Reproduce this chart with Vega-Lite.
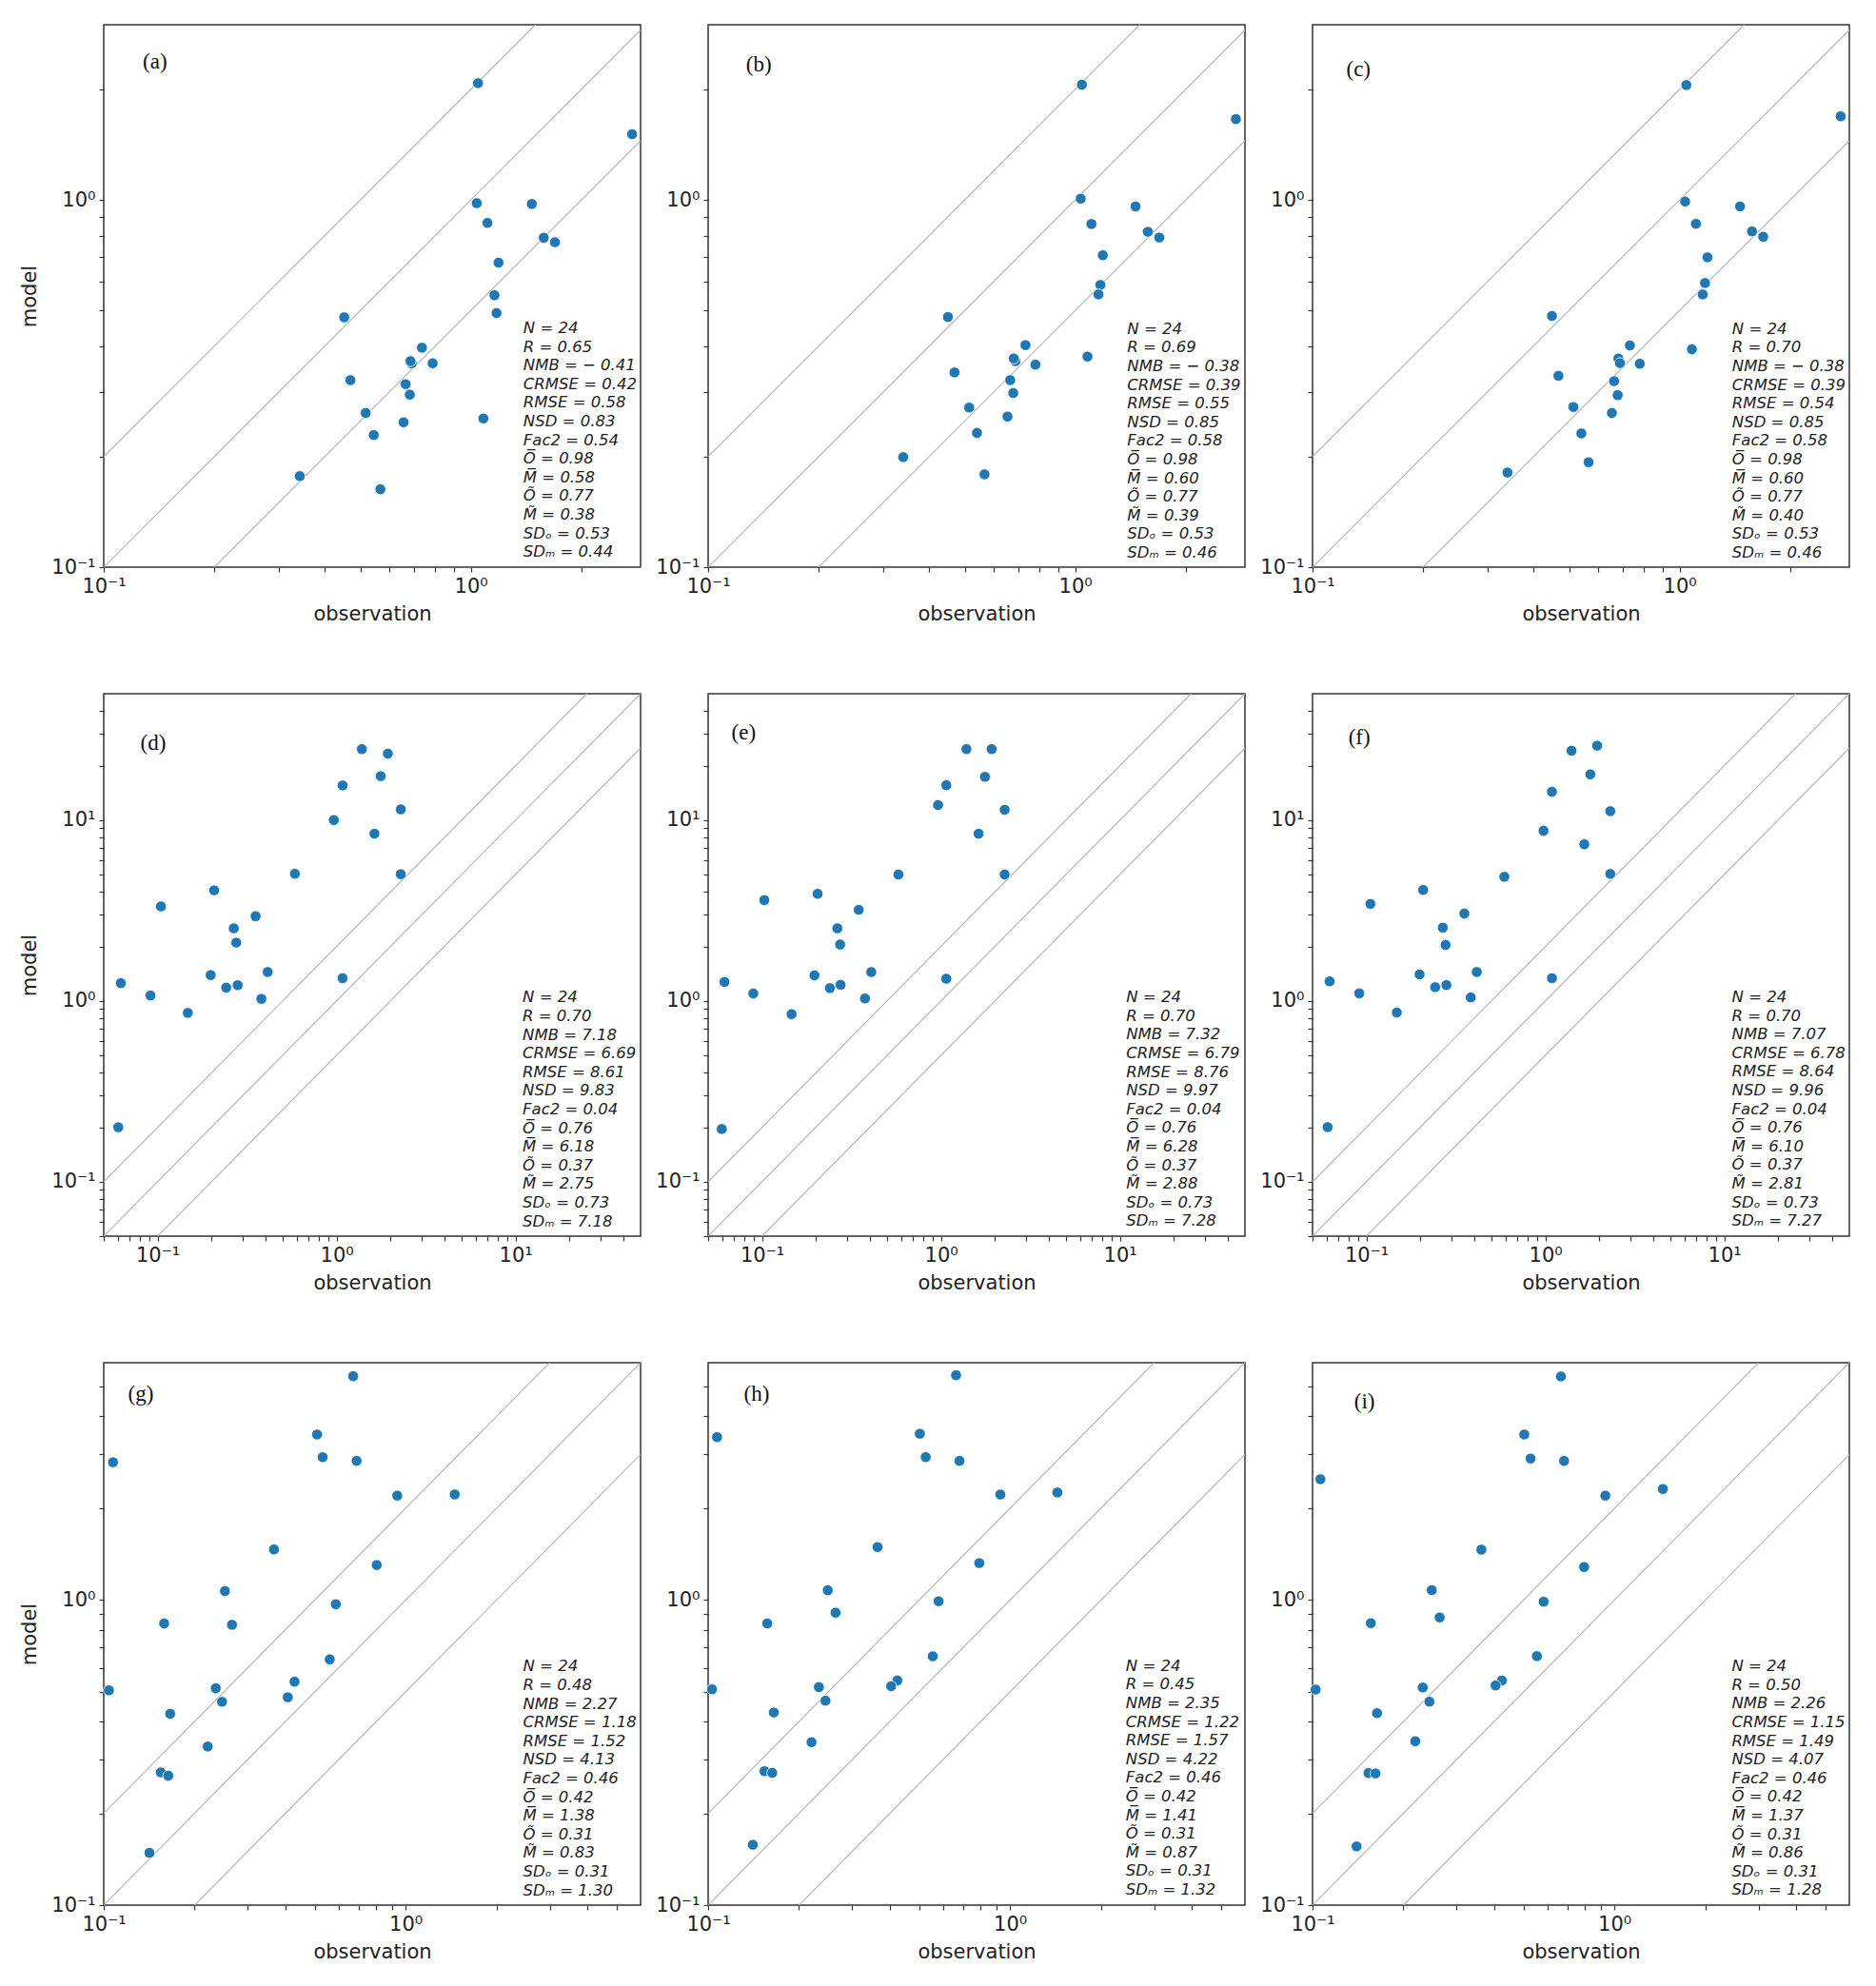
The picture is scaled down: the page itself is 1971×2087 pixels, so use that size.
{
  "$schema": "https://vega.github.io/schema/vega-lite/v6.json",
  "padding": {"left": 20, "top": 25, "right": 5, "bottom": 5},
  "background": "white",
  "datasets": {
    "diag": [
      {"k": "0.5", "x": 0.01, "y": 0.005}, {"k": "0.5", "x": 100, "y": 50},
      {"k": "1", "x": 0.01, "y": 0.01}, {"k": "1", "x": 100, "y": 100},
      {"k": "2", "x": 0.01, "y": 0.02}, {"k": "2", "x": 100, "y": 200}
    ],
    "pts": [
      {"p":"a","x":1.046,"y":2.08},{"p":"a","x":2.75,"y":1.51},{"p":"a","x":1.038,"y":0.98},{"p":"a","x":1.466,"y":0.975},{"p":"a","x":1.11,"y":0.866},{"p":"a","x":1.58,"y":0.789},{"p":"a","x":1.695,"y":0.767},{"p":"a","x":1.19,"y":0.675},{"p":"a","x":1.16,"y":0.55},{"p":"a","x":1.175,"y":0.492},{"p":"a","x":0.452,"y":0.479},{"p":"a","x":0.736,"y":0.396},{"p":"a","x":0.69,"y":0.359},{"p":"a","x":0.685,"y":0.364},{"p":"a","x":0.787,"y":0.359},{"p":"a","x":0.47,"y":0.323},{"p":"a","x":0.664,"y":0.315},{"p":"a","x":0.682,"y":0.295},{"p":"a","x":0.517,"y":0.263},{"p":"a","x":1.082,"y":0.254},{"p":"a","x":0.656,"y":0.248},{"p":"a","x":0.544,"y":0.229},{"p":"a","x":0.342,"y":0.177},{"p":"a","x":0.567,"y":0.163},
      {"p":"b","x":1.043,"y":2.06},{"p":"b","x":2.74,"y":1.66},{"p":"b","x":1.035,"y":1.008},{"p":"b","x":1.46,"y":0.96},{"p":"b","x":1.107,"y":0.86},{"p":"b","x":1.577,"y":0.819},{"p":"b","x":1.694,"y":0.79},{"p":"b","x":1.189,"y":0.707},{"p":"b","x":1.171,"y":0.587},{"p":"b","x":1.157,"y":0.553},{"p":"b","x":0.45,"y":0.48},{"p":"b","x":0.732,"y":0.4025},{"p":"b","x":1.08,"y":0.3745},{"p":"b","x":0.687,"y":0.364},{"p":"b","x":0.68,"y":0.37},{"p":"b","x":0.779,"y":0.356},{"p":"b","x":0.469,"y":0.339},{"p":"b","x":0.665,"y":0.323},{"p":"b","x":0.678,"y":0.298},{"p":"b","x":0.514,"y":0.272},{"p":"b","x":0.654,"y":0.257},{"p":"b","x":0.54,"y":0.232},{"p":"b","x":0.34,"y":0.1994},{"p":"b","x":0.566,"y":0.179},
      {"p":"c","x":1.043,"y":2.055},{"p":"c","x":2.747,"y":1.69},{"p":"c","x":1.035,"y":0.99},{"p":"c","x":1.461,"y":0.96},{"p":"c","x":1.108,"y":0.861},{"p":"c","x":1.575,"y":0.821},{"p":"c","x":1.689,"y":0.794},{"p":"c","x":1.191,"y":0.698},{"p":"c","x":1.173,"y":0.594},{"p":"c","x":1.156,"y":0.553},{"p":"c","x":0.449,"y":0.483},{"p":"c","x":0.732,"y":0.4015},{"p":"c","x":1.08,"y":0.392},{"p":"c","x":0.681,"y":0.37},{"p":"c","x":0.688,"y":0.3595},{"p":"c","x":0.779,"y":0.358},{"p":"c","x":0.4676,"y":0.332},{"p":"c","x":0.663,"y":0.321},{"p":"c","x":0.678,"y":0.294},{"p":"c","x":0.5136,"y":0.273},{"p":"c","x":0.654,"y":0.263},{"p":"c","x":0.54,"y":0.2313},{"p":"c","x":0.565,"y":0.193},{"p":"c","x":0.3396,"y":0.181},
      {"p":"d","x":1.385,"y":24.7},{"p":"d","x":1.935,"y":23.3},{"p":"d","x":1.765,"y":17.5},{"p":"d","x":1.081,"y":15.55},{"p":"d","x":2.286,"y":11.46},{"p":"d","x":0.966,"y":10.0},{"p":"d","x":1.628,"y":8.41},{"p":"d","x":0.585,"y":5.05},{"p":"d","x":2.286,"y":5.02},{"p":"d","x":0.207,"y":4.09},{"p":"d","x":0.1044,"y":3.33},{"p":"d","x":0.353,"y":2.94},{"p":"d","x":0.2665,"y":2.52},{"p":"d","x":0.275,"y":2.1},{"p":"d","x":0.198,"y":1.39},{"p":"d","x":0.4124,"y":1.445},{"p":"d","x":1.081,"y":1.335},{"p":"d","x":0.0623,"y":1.254},{"p":"d","x":0.2418,"y":1.184},{"p":"d","x":0.28,"y":1.221},{"p":"d","x":0.0912,"y":1.071},{"p":"d","x":0.38,"y":1.027},{"p":"d","x":0.1474,"y":0.859},{"p":"d","x":0.0603,"y":0.2},
      {"p":"e","x":1.388,"y":24.7},{"p":"e","x":1.92,"y":24.7},{"p":"e","x":1.762,"y":17.35},{"p":"e","x":1.071,"y":15.6},{"p":"e","x":0.963,"y":12.1},{"p":"e","x":2.27,"y":11.4},{"p":"e","x":1.624,"y":8.41},{"p":"e","x":0.579,"y":5.0},{"p":"e","x":2.27,"y":5.0},{"p":"e","x":0.2046,"y":3.91},{"p":"e","x":0.103,"y":3.61},{"p":"e","x":0.347,"y":3.19},{"p":"e","x":0.2637,"y":2.52},{"p":"e","x":0.2733,"y":2.05},{"p":"e","x":0.1965,"y":1.385},{"p":"e","x":0.408,"y":1.443},{"p":"e","x":1.071,"y":1.327},{"p":"e","x":0.0617,"y":1.273},{"p":"e","x":0.2395,"y":1.177},{"p":"e","x":0.2747,"y":1.227},{"p":"e","x":0.0894,"y":1.099},{"p":"e","x":0.3763,"y":1.032},{"p":"e","x":0.1463,"y":0.845},{"p":"e","x":0.0596,"y":0.1957},
      {"p":"f","x":1.401,"y":24.2},{"p":"f","x":1.948,"y":25.8},{"p":"f","x":1.784,"y":17.9},{"p":"f","x":1.089,"y":14.34},{"p":"f","x":2.307,"y":11.2},{"p":"f","x":0.977,"y":8.73},{"p":"f","x":1.651,"y":7.35},{"p":"f","x":0.59,"y":4.86},{"p":"f","x":2.307,"y":5.04},{"p":"f","x":0.2077,"y":4.11},{"p":"f","x":0.1053,"y":3.44},{"p":"f","x":0.3527,"y":3.04},{"p":"f","x":0.2672,"y":2.54},{"p":"f","x":0.277,"y":2.04},{"p":"f","x":0.1983,"y":1.401},{"p":"f","x":0.4139,"y":1.445},{"p":"f","x":1.089,"y":1.336},{"p":"f","x":0.0623,"y":1.282},{"p":"f","x":0.2423,"y":1.191},{"p":"f","x":0.28,"y":1.223},{"p":"f","x":0.0912,"y":1.101},{"p":"f","x":0.383,"y":1.045},{"p":"f","x":0.1479,"y":0.862},{"p":"f","x":0.0607,"y":0.2004},
      {"p":"g","x":0.67,"y":5.42},{"p":"g","x":0.509,"y":3.49},{"p":"g","x":0.1073,"y":2.83},{"p":"g","x":0.531,"y":2.94},{"p":"g","x":0.688,"y":2.86},{"p":"g","x":0.938,"y":2.2},{"p":"g","x":1.454,"y":2.22},{"p":"g","x":0.3664,"y":1.466},{"p":"g","x":0.802,"y":1.303},{"p":"g","x":0.252,"y":1.07},{"p":"g","x":0.587,"y":0.969},{"p":"g","x":0.1585,"y":0.838},{"p":"g","x":0.266,"y":0.83},{"p":"g","x":0.5606,"y":0.639},{"p":"g","x":0.4285,"y":0.54},{"p":"g","x":0.235,"y":0.514},{"p":"g","x":0.104,"y":0.506},{"p":"g","x":0.407,"y":0.48},{"p":"g","x":0.2465,"y":0.464},{"p":"g","x":0.166,"y":0.424},{"p":"g","x":0.221,"y":0.331},{"p":"g","x":0.1545,"y":0.2723},{"p":"g","x":0.1636,"y":0.2657},{"p":"g","x":0.1417,"y":0.1484},
      {"p":"h","x":0.6624,"y":5.46},{"p":"h","x":0.107,"y":3.42},{"p":"h","x":0.5027,"y":3.51},{"p":"h","x":0.5256,"y":2.94},{"p":"h","x":0.68,"y":2.86},{"p":"h","x":0.9286,"y":2.218},{"p":"h","x":1.435,"y":2.253},{"p":"h","x":0.364,"y":1.492},{"p":"h","x":0.791,"y":1.322},{"p":"h","x":0.249,"y":1.077},{"p":"h","x":0.58,"y":0.991},{"p":"h","x":0.2643,"y":0.909},{"p":"h","x":0.1569,"y":0.838},{"p":"h","x":0.5546,"y":0.654},{"p":"h","x":0.4235,"y":0.545},{"p":"h","x":0.4038,"y":0.522},{"p":"h","x":0.2327,"y":0.5185},{"p":"h","x":0.103,"y":0.51},{"p":"h","x":0.2447,"y":0.468},{"p":"h","x":0.165,"y":0.428},{"p":"h","x":0.22,"y":0.342},{"p":"h","x":0.1537,"y":0.2747},{"p":"h","x":0.163,"y":0.2713},{"p":"h","x":0.1406,"y":0.1577},
      {"p":"i","x":0.665,"y":5.41},{"p":"i","x":0.5028,"y":3.49},{"p":"i","x":0.5275,"y":2.91},{"p":"i","x":0.681,"y":2.858},{"p":"i","x":0.1062,"y":2.49},{"p":"i","x":0.933,"y":2.2},{"p":"i","x":1.447,"y":2.312},{"p":"i","x":0.3625,"y":1.463},{"p":"i","x":0.7935,"y":1.283},{"p":"i","x":0.2483,"y":1.078},{"p":"i","x":0.5829,"y":0.988},{"p":"i","x":0.2637,"y":0.877},{"p":"i","x":0.156,"y":0.84},{"p":"i","x":0.5537,"y":0.655},{"p":"i","x":0.4238,"y":0.545},{"p":"i","x":0.404,"y":0.525},{"p":"i","x":0.2318,"y":0.5168},{"p":"i","x":0.1024,"y":0.5087},{"p":"i","x":0.2439,"y":0.4646},{"p":"i","x":0.1636,"y":0.4258},{"p":"i","x":0.2189,"y":0.3445},{"p":"i","x":0.1532,"y":0.271},{"p":"i","x":0.1616,"y":0.2702},{"p":"i","x":0.1399,"y":0.1557}
    ],
    "labs": [
      {"p":"a","x":0.1278,"y":2.38,"t":"(a)"},{"p":"b","x":0.1268,"y":2.34,"t":"(b)"},{"p":"c","x":0.1236,"y":2.26,"t":"(c)"},
      {"p":"d","x":0.0802,"y":26.5,"t":"(d)"},{"p":"e","x":0.0676,"y":30.4,"t":"(e)"},{"p":"f","x":0.0793,"y":28.6,"t":"(f)"},
      {"p":"g","x":0.1204,"y":4.72,"t":"(g)"},{"p":"h","x":0.1313,"y":4.75,"t":"(h)"},{"p":"i","x":0.1374,"y":4.48,"t":"(i)"}
    ],
    "stats": [
      {"p":"a","x":1.39,"y":0.469,"t":"N = 24\nR = 0.65\nNMB = \u2212 0.41\nCRMSE = 0.42\nRMSE = 0.58\nNSD = 0.83\nFac2 = 0.54\nO\u0305 = 0.98\nM\u0305 = 0.58\n\u00d5 = 0.77\nM\u0303 = 0.38\nSD\u2092 = 0.53\nSD\u2098 = 0.44"},
      {"p":"b","x":1.386,"y":0.467,"t":"N = 24\nR = 0.69\nNMB = \u2212 0.38\nCRMSE = 0.39\nRMSE = 0.55\nNSD = 0.85\nFac2 = 0.58\nO\u0305 = 0.98\nM\u0305 = 0.60\n\u00d5 = 0.77\nM\u0303 = 0.39\nSD\u2092 = 0.53\nSD\u2098 = 0.46"},
      {"p":"c","x":1.39,"y":0.467,"t":"N = 24\nR = 0.70\nNMB = \u2212 0.38\nCRMSE = 0.39\nRMSE = 0.54\nNSD = 0.85\nFac2 = 0.58\nO\u0305 = 0.98\nM\u0305 = 0.60\n\u00d5 = 0.77\nM\u0303 = 0.40\nSD\u2092 = 0.53\nSD\u2098 = 0.46"},
      {"p":"d","x":10.96,"y":1.147,"t":"N = 24\nR = 0.70\nNMB = 7.18\nCRMSE = 6.69\nRMSE = 8.61\nNSD = 9.83\nFac2 = 0.04\nO\u0305 = 0.76\nM\u0305 = 6.18\n\u00d5 = 0.37\nM\u0303 = 2.75\nSD\u2092 = 0.73\nSD\u2098 = 7.18"},
      {"p":"e","x":10.85,"y":1.152,"t":"N = 24\nR = 0.70\nNMB = 7.32\nCRMSE = 6.79\nRMSE = 8.76\nNSD = 9.97\nFac2 = 0.04\nO\u0305 = 0.76\nM\u0305 = 6.28\n\u00d5 = 0.37\nM\u0303 = 2.88\nSD\u2092 = 0.73\nSD\u2098 = 7.28"},
      {"p":"f","x":11.03,"y":1.154,"t":"N = 24\nR = 0.70\nNMB = 7.07\nCRMSE = 6.78\nRMSE = 8.64\nNSD = 9.96\nFac2 = 0.04\nO\u0305 = 0.76\nM\u0305 = 6.10\n\u00d5 = 0.37\nM\u0303 = 2.81\nSD\u2092 = 0.73\nSD\u2098 = 7.27"},
      {"p":"g","x":2.448,"y":0.641,"t":"N = 24\nR = 0.48\nNMB = 2.27\nCRMSE = 1.18\nRMSE = 1.52\nNSD = 4.13\nFac2 = 0.46\nO\u0305 = 0.42\nM\u0305 = 1.38\n\u00d5 = 0.31\nM\u0303 = 0.83\nSD\u2092 = 0.31\nSD\u2098 = 1.30"},
      {"p":"h","x":2.418,"y":0.644,"t":"N = 24\nR = 0.45\nNMB = 2.35\nCRMSE = 1.22\nRMSE = 1.57\nNSD = 4.22\nFac2 = 0.46\nO\u0305 = 0.42\nM\u0305 = 1.41\n\u00d5 = 0.31\nM\u0303 = 0.87\nSD\u2092 = 0.31\nSD\u2098 = 1.32"},
      {"p":"i","x":2.446,"y":0.642,"t":"N = 24\nR = 0.50\nNMB = 2.26\nCRMSE = 1.15\nRMSE = 1.49\nNSD = 4.07\nFac2 = 0.46\nO\u0305 = 0.42\nM\u0305 = 1.37\n\u00d5 = 0.31\nM\u0303 = 0.86\nSD\u2092 = 0.31\nSD\u2098 = 1.28"}
    ]
  },
  "columns": 3,
  "bounds": "flush",
  "spacing": {"row": 133, "column": 71},
  "concat": [
    {"width": 564, "height": 570, "layer": [
      {"data": {"name": "diag"}, "mark": {"type": "line", "clip": true, "color": "#b5b5b5", "strokeWidth": 1.2},
       "encoding": {"x": {"field": "x", "type": "quantitative", "scale": {"type": "log", "domain": [0.1, 2.9], "nice": false}, "axis": {"title": "observation", "values": [0.1,0.2,0.3,0.4,0.5,0.6,0.7,0.8,0.9,1,2], "labelExpr": "datum.value == 0.1 ? '10\u207b\u00b9' : datum.value == 1 ? '10\u2070' : datum.value == 10 ? '10\u00b9' : ''"}},
                    "y": {"field": "y", "type": "quantitative", "scale": {"type": "log", "domain": [0.1, 3.0], "nice": false}, "axis": {"title": "model", "values": [0.1,0.2,0.3,0.4,0.5,0.6,0.7,0.8,0.9,1,2], "labelExpr": "datum.value == 0.1 ? '10\u207b\u00b9' : datum.value == 1 ? '10\u2070' : datum.value == 10 ? '10\u00b9' : ''"}},
                    "detail": {"field": "k"}}},
      {"data": {"name": "pts"}, "transform": [{"filter": "datum.p == 'a'"}], "mark": {"type": "circle", "size": 130, "color": "#1f77b4", "opacity": 1, "stroke": "white", "strokeWidth": 0.8}, "encoding": {"x": {"field": "x", "type": "quantitative"}, "y": {"field": "y", "type": "quantitative"}}},
      {"data": {"name": "labs"}, "transform": [{"filter": "datum.p == 'a'"}], "mark": {"type": "text", "font": "Liberation Serif", "fontSize": 23, "align": "left", "baseline": "middle", "color": "#111111"}, "encoding": {"x": {"field": "x", "type": "quantitative"}, "y": {"field": "y", "type": "quantitative"}, "text": {"field": "t"}}},
      {"data": {"name": "stats"}, "transform": [{"filter": "datum.p == 'a'"}], "mark": {"type": "text", "font": "DejaVu Sans", "fontStyle": "italic", "fontSize": 16.5, "lineHeight": 19.6, "lineBreak": "\n", "align": "left", "baseline": "top", "color": "#222222"}, "encoding": {"x": {"field": "x", "type": "quantitative"}, "y": {"field": "y", "type": "quantitative"}, "text": {"field": "t"}}}
    ]},
    {"width": 564, "height": 570, "layer": [
      {"data": {"name": "diag"}, "mark": {"type": "line", "clip": true, "color": "#b5b5b5", "strokeWidth": 1.2},
       "encoding": {"x": {"field": "x", "type": "quantitative", "scale": {"type": "log", "domain": [0.1, 2.9], "nice": false}, "axis": {"title": "observation", "values": [0.1,0.2,0.3,0.4,0.5,0.6,0.7,0.8,0.9,1,2], "labelExpr": "datum.value == 0.1 ? '10\u207b\u00b9' : datum.value == 1 ? '10\u2070' : datum.value == 10 ? '10\u00b9' : ''"}},
                    "y": {"field": "y", "type": "quantitative", "scale": {"type": "log", "domain": [0.1, 3.0], "nice": false}, "axis": {"title": null, "values": [0.1,0.2,0.3,0.4,0.5,0.6,0.7,0.8,0.9,1,2], "labelExpr": "datum.value == 0.1 ? '10\u207b\u00b9' : datum.value == 1 ? '10\u2070' : datum.value == 10 ? '10\u00b9' : ''"}},
                    "detail": {"field": "k"}}},
      {"data": {"name": "pts"}, "transform": [{"filter": "datum.p == 'b'"}], "mark": {"type": "circle", "size": 130, "color": "#1f77b4", "opacity": 1, "stroke": "white", "strokeWidth": 0.8}, "encoding": {"x": {"field": "x", "type": "quantitative"}, "y": {"field": "y", "type": "quantitative"}}},
      {"data": {"name": "labs"}, "transform": [{"filter": "datum.p == 'b'"}], "mark": {"type": "text", "font": "Liberation Serif", "fontSize": 23, "align": "left", "baseline": "middle", "color": "#111111"}, "encoding": {"x": {"field": "x", "type": "quantitative"}, "y": {"field": "y", "type": "quantitative"}, "text": {"field": "t"}}},
      {"data": {"name": "stats"}, "transform": [{"filter": "datum.p == 'b'"}], "mark": {"type": "text", "font": "DejaVu Sans", "fontStyle": "italic", "fontSize": 16.5, "lineHeight": 19.6, "lineBreak": "\n", "align": "left", "baseline": "top", "color": "#222222"}, "encoding": {"x": {"field": "x", "type": "quantitative"}, "y": {"field": "y", "type": "quantitative"}, "text": {"field": "t"}}}
    ]},
    {"width": 564, "height": 570, "layer": [
      {"data": {"name": "diag"}, "mark": {"type": "line", "clip": true, "color": "#b5b5b5", "strokeWidth": 1.2},
       "encoding": {"x": {"field": "x", "type": "quantitative", "scale": {"type": "log", "domain": [0.1, 2.9], "nice": false}, "axis": {"title": "observation", "values": [0.1,0.2,0.3,0.4,0.5,0.6,0.7,0.8,0.9,1,2], "labelExpr": "datum.value == 0.1 ? '10\u207b\u00b9' : datum.value == 1 ? '10\u2070' : datum.value == 10 ? '10\u00b9' : ''"}},
                    "y": {"field": "y", "type": "quantitative", "scale": {"type": "log", "domain": [0.1, 3.0], "nice": false}, "axis": {"title": null, "values": [0.1,0.2,0.3,0.4,0.5,0.6,0.7,0.8,0.9,1,2], "labelExpr": "datum.value == 0.1 ? '10\u207b\u00b9' : datum.value == 1 ? '10\u2070' : datum.value == 10 ? '10\u00b9' : ''"}},
                    "detail": {"field": "k"}}},
      {"data": {"name": "pts"}, "transform": [{"filter": "datum.p == 'c'"}], "mark": {"type": "circle", "size": 130, "color": "#1f77b4", "opacity": 1, "stroke": "white", "strokeWidth": 0.8}, "encoding": {"x": {"field": "x", "type": "quantitative"}, "y": {"field": "y", "type": "quantitative"}}},
      {"data": {"name": "labs"}, "transform": [{"filter": "datum.p == 'c'"}], "mark": {"type": "text", "font": "Liberation Serif", "fontSize": 23, "align": "left", "baseline": "middle", "color": "#111111"}, "encoding": {"x": {"field": "x", "type": "quantitative"}, "y": {"field": "y", "type": "quantitative"}, "text": {"field": "t"}}},
      {"data": {"name": "stats"}, "transform": [{"filter": "datum.p == 'c'"}], "mark": {"type": "text", "font": "DejaVu Sans", "fontStyle": "italic", "fontSize": 16.5, "lineHeight": 19.6, "lineBreak": "\n", "align": "left", "baseline": "top", "color": "#222222"}, "encoding": {"x": {"field": "x", "type": "quantitative"}, "y": {"field": "y", "type": "quantitative"}, "text": {"field": "t"}}}
    ]},
    {"width": 564, "height": 570, "layer": [
      {"data": {"name": "diag"}, "mark": {"type": "line", "clip": true, "color": "#b5b5b5", "strokeWidth": 1.2},
       "encoding": {"x": {"field": "x", "type": "quantitative", "scale": {"type": "log", "domain": [0.05, 50], "nice": false}, "axis": {"title": "observation", "values": [0.05,0.06,0.07,0.08,0.09,0.1,0.2,0.3,0.4,0.5,0.6,0.7,0.8,0.9,1,2,3,4,5,6,7,8,9,10,20,30,40], "labelExpr": "datum.value == 0.1 ? '10\u207b\u00b9' : datum.value == 1 ? '10\u2070' : datum.value == 10 ? '10\u00b9' : ''"}},
                    "y": {"field": "y", "type": "quantitative", "scale": {"type": "log", "domain": [0.05, 50], "nice": false}, "axis": {"title": "model", "values": [0.05,0.06,0.07,0.08,0.09,0.1,0.2,0.3,0.4,0.5,0.6,0.7,0.8,0.9,1,2,3,4,5,6,7,8,9,10,20,30,40], "labelExpr": "datum.value == 0.1 ? '10\u207b\u00b9' : datum.value == 1 ? '10\u2070' : datum.value == 10 ? '10\u00b9' : ''"}},
                    "detail": {"field": "k"}}},
      {"data": {"name": "pts"}, "transform": [{"filter": "datum.p == 'd'"}], "mark": {"type": "circle", "size": 130, "color": "#1f77b4", "opacity": 1, "stroke": "white", "strokeWidth": 0.8}, "encoding": {"x": {"field": "x", "type": "quantitative"}, "y": {"field": "y", "type": "quantitative"}}},
      {"data": {"name": "labs"}, "transform": [{"filter": "datum.p == 'd'"}], "mark": {"type": "text", "font": "Liberation Serif", "fontSize": 23, "align": "left", "baseline": "middle", "color": "#111111"}, "encoding": {"x": {"field": "x", "type": "quantitative"}, "y": {"field": "y", "type": "quantitative"}, "text": {"field": "t"}}},
      {"data": {"name": "stats"}, "transform": [{"filter": "datum.p == 'd'"}], "mark": {"type": "text", "font": "DejaVu Sans", "fontStyle": "italic", "fontSize": 16.5, "lineHeight": 19.6, "lineBreak": "\n", "align": "left", "baseline": "top", "color": "#222222"}, "encoding": {"x": {"field": "x", "type": "quantitative"}, "y": {"field": "y", "type": "quantitative"}, "text": {"field": "t"}}}
    ]},
    {"width": 564, "height": 570, "layer": [
      {"data": {"name": "diag"}, "mark": {"type": "line", "clip": true, "color": "#b5b5b5", "strokeWidth": 1.2},
       "encoding": {"x": {"field": "x", "type": "quantitative", "scale": {"type": "log", "domain": [0.05, 50], "nice": false}, "axis": {"title": "observation", "values": [0.05,0.06,0.07,0.08,0.09,0.1,0.2,0.3,0.4,0.5,0.6,0.7,0.8,0.9,1,2,3,4,5,6,7,8,9,10,20,30,40], "labelExpr": "datum.value == 0.1 ? '10\u207b\u00b9' : datum.value == 1 ? '10\u2070' : datum.value == 10 ? '10\u00b9' : ''"}},
                    "y": {"field": "y", "type": "quantitative", "scale": {"type": "log", "domain": [0.05, 50], "nice": false}, "axis": {"title": null, "values": [0.05,0.06,0.07,0.08,0.09,0.1,0.2,0.3,0.4,0.5,0.6,0.7,0.8,0.9,1,2,3,4,5,6,7,8,9,10,20,30,40], "labelExpr": "datum.value == 0.1 ? '10\u207b\u00b9' : datum.value == 1 ? '10\u2070' : datum.value == 10 ? '10\u00b9' : ''"}},
                    "detail": {"field": "k"}}},
      {"data": {"name": "pts"}, "transform": [{"filter": "datum.p == 'e'"}], "mark": {"type": "circle", "size": 130, "color": "#1f77b4", "opacity": 1, "stroke": "white", "strokeWidth": 0.8}, "encoding": {"x": {"field": "x", "type": "quantitative"}, "y": {"field": "y", "type": "quantitative"}}},
      {"data": {"name": "labs"}, "transform": [{"filter": "datum.p == 'e'"}], "mark": {"type": "text", "font": "Liberation Serif", "fontSize": 23, "align": "left", "baseline": "middle", "color": "#111111"}, "encoding": {"x": {"field": "x", "type": "quantitative"}, "y": {"field": "y", "type": "quantitative"}, "text": {"field": "t"}}},
      {"data": {"name": "stats"}, "transform": [{"filter": "datum.p == 'e'"}], "mark": {"type": "text", "font": "DejaVu Sans", "fontStyle": "italic", "fontSize": 16.5, "lineHeight": 19.6, "lineBreak": "\n", "align": "left", "baseline": "top", "color": "#222222"}, "encoding": {"x": {"field": "x", "type": "quantitative"}, "y": {"field": "y", "type": "quantitative"}, "text": {"field": "t"}}}
    ]},
    {"width": 564, "height": 570, "layer": [
      {"data": {"name": "diag"}, "mark": {"type": "line", "clip": true, "color": "#b5b5b5", "strokeWidth": 1.2},
       "encoding": {"x": {"field": "x", "type": "quantitative", "scale": {"type": "log", "domain": [0.05, 50], "nice": false}, "axis": {"title": "observation", "values": [0.05,0.06,0.07,0.08,0.09,0.1,0.2,0.3,0.4,0.5,0.6,0.7,0.8,0.9,1,2,3,4,5,6,7,8,9,10,20,30,40], "labelExpr": "datum.value == 0.1 ? '10\u207b\u00b9' : datum.value == 1 ? '10\u2070' : datum.value == 10 ? '10\u00b9' : ''"}},
                    "y": {"field": "y", "type": "quantitative", "scale": {"type": "log", "domain": [0.05, 50], "nice": false}, "axis": {"title": null, "values": [0.05,0.06,0.07,0.08,0.09,0.1,0.2,0.3,0.4,0.5,0.6,0.7,0.8,0.9,1,2,3,4,5,6,7,8,9,10,20,30,40], "labelExpr": "datum.value == 0.1 ? '10\u207b\u00b9' : datum.value == 1 ? '10\u2070' : datum.value == 10 ? '10\u00b9' : ''"}},
                    "detail": {"field": "k"}}},
      {"data": {"name": "pts"}, "transform": [{"filter": "datum.p == 'f'"}], "mark": {"type": "circle", "size": 130, "color": "#1f77b4", "opacity": 1, "stroke": "white", "strokeWidth": 0.8}, "encoding": {"x": {"field": "x", "type": "quantitative"}, "y": {"field": "y", "type": "quantitative"}}},
      {"data": {"name": "labs"}, "transform": [{"filter": "datum.p == 'f'"}], "mark": {"type": "text", "font": "Liberation Serif", "fontSize": 23, "align": "left", "baseline": "middle", "color": "#111111"}, "encoding": {"x": {"field": "x", "type": "quantitative"}, "y": {"field": "y", "type": "quantitative"}, "text": {"field": "t"}}},
      {"data": {"name": "stats"}, "transform": [{"filter": "datum.p == 'f'"}], "mark": {"type": "text", "font": "DejaVu Sans", "fontStyle": "italic", "fontSize": 16.5, "lineHeight": 19.6, "lineBreak": "\n", "align": "left", "baseline": "top", "color": "#222222"}, "encoding": {"x": {"field": "x", "type": "quantitative"}, "y": {"field": "y", "type": "quantitative"}, "text": {"field": "t"}}}
    ]},
    {"width": 564, "height": 570, "layer": [
      {"data": {"name": "diag"}, "mark": {"type": "line", "clip": true, "color": "#b5b5b5", "strokeWidth": 1.2},
       "encoding": {"x": {"field": "x", "type": "quantitative", "scale": {"type": "log", "domain": [0.1, 6], "nice": false}, "axis": {"title": "observation", "values": [0.1,0.2,0.3,0.4,0.5,0.6,0.7,0.8,0.9,1,2,3,4,5], "labelExpr": "datum.value == 0.1 ? '10\u207b\u00b9' : datum.value == 1 ? '10\u2070' : datum.value == 10 ? '10\u00b9' : ''"}},
                    "y": {"field": "y", "type": "quantitative", "scale": {"type": "log", "domain": [0.1, 6], "nice": false}, "axis": {"title": "model", "values": [0.1,0.2,0.3,0.4,0.5,0.6,0.7,0.8,0.9,1,2,3,4,5], "labelExpr": "datum.value == 0.1 ? '10\u207b\u00b9' : datum.value == 1 ? '10\u2070' : datum.value == 10 ? '10\u00b9' : ''"}},
                    "detail": {"field": "k"}}},
      {"data": {"name": "pts"}, "transform": [{"filter": "datum.p == 'g'"}], "mark": {"type": "circle", "size": 130, "color": "#1f77b4", "opacity": 1, "stroke": "white", "strokeWidth": 0.8}, "encoding": {"x": {"field": "x", "type": "quantitative"}, "y": {"field": "y", "type": "quantitative"}}},
      {"data": {"name": "labs"}, "transform": [{"filter": "datum.p == 'g'"}], "mark": {"type": "text", "font": "Liberation Serif", "fontSize": 23, "align": "left", "baseline": "middle", "color": "#111111"}, "encoding": {"x": {"field": "x", "type": "quantitative"}, "y": {"field": "y", "type": "quantitative"}, "text": {"field": "t"}}},
      {"data": {"name": "stats"}, "transform": [{"filter": "datum.p == 'g'"}], "mark": {"type": "text", "font": "DejaVu Sans", "fontStyle": "italic", "fontSize": 16.5, "lineHeight": 19.6, "lineBreak": "\n", "align": "left", "baseline": "top", "color": "#222222"}, "encoding": {"x": {"field": "x", "type": "quantitative"}, "y": {"field": "y", "type": "quantitative"}, "text": {"field": "t"}}}
    ]},
    {"width": 564, "height": 570, "layer": [
      {"data": {"name": "diag"}, "mark": {"type": "line", "clip": true, "color": "#b5b5b5", "strokeWidth": 1.2},
       "encoding": {"x": {"field": "x", "type": "quantitative", "scale": {"type": "log", "domain": [0.1, 6], "nice": false}, "axis": {"title": "observation", "values": [0.1,0.2,0.3,0.4,0.5,0.6,0.7,0.8,0.9,1,2,3,4,5], "labelExpr": "datum.value == 0.1 ? '10\u207b\u00b9' : datum.value == 1 ? '10\u2070' : datum.value == 10 ? '10\u00b9' : ''"}},
                    "y": {"field": "y", "type": "quantitative", "scale": {"type": "log", "domain": [0.1, 6], "nice": false}, "axis": {"title": null, "values": [0.1,0.2,0.3,0.4,0.5,0.6,0.7,0.8,0.9,1,2,3,4,5], "labelExpr": "datum.value == 0.1 ? '10\u207b\u00b9' : datum.value == 1 ? '10\u2070' : datum.value == 10 ? '10\u00b9' : ''"}},
                    "detail": {"field": "k"}}},
      {"data": {"name": "pts"}, "transform": [{"filter": "datum.p == 'h'"}], "mark": {"type": "circle", "size": 130, "color": "#1f77b4", "opacity": 1, "stroke": "white", "strokeWidth": 0.8}, "encoding": {"x": {"field": "x", "type": "quantitative"}, "y": {"field": "y", "type": "quantitative"}}},
      {"data": {"name": "labs"}, "transform": [{"filter": "datum.p == 'h'"}], "mark": {"type": "text", "font": "Liberation Serif", "fontSize": 23, "align": "left", "baseline": "middle", "color": "#111111"}, "encoding": {"x": {"field": "x", "type": "quantitative"}, "y": {"field": "y", "type": "quantitative"}, "text": {"field": "t"}}},
      {"data": {"name": "stats"}, "transform": [{"filter": "datum.p == 'h'"}], "mark": {"type": "text", "font": "DejaVu Sans", "fontStyle": "italic", "fontSize": 16.5, "lineHeight": 19.6, "lineBreak": "\n", "align": "left", "baseline": "top", "color": "#222222"}, "encoding": {"x": {"field": "x", "type": "quantitative"}, "y": {"field": "y", "type": "quantitative"}, "text": {"field": "t"}}}
    ]},
    {"width": 564, "height": 570, "layer": [
      {"data": {"name": "diag"}, "mark": {"type": "line", "clip": true, "color": "#b5b5b5", "strokeWidth": 1.2},
       "encoding": {"x": {"field": "x", "type": "quantitative", "scale": {"type": "log", "domain": [0.1, 6], "nice": false}, "axis": {"title": "observation", "values": [0.1,0.2,0.3,0.4,0.5,0.6,0.7,0.8,0.9,1,2,3,4,5], "labelExpr": "datum.value == 0.1 ? '10\u207b\u00b9' : datum.value == 1 ? '10\u2070' : datum.value == 10 ? '10\u00b9' : ''"}},
                    "y": {"field": "y", "type": "quantitative", "scale": {"type": "log", "domain": [0.1, 6], "nice": false}, "axis": {"title": null, "values": [0.1,0.2,0.3,0.4,0.5,0.6,0.7,0.8,0.9,1,2,3,4,5], "labelExpr": "datum.value == 0.1 ? '10\u207b\u00b9' : datum.value == 1 ? '10\u2070' : datum.value == 10 ? '10\u00b9' : ''"}},
                    "detail": {"field": "k"}}},
      {"data": {"name": "pts"}, "transform": [{"filter": "datum.p == 'i'"}], "mark": {"type": "circle", "size": 130, "color": "#1f77b4", "opacity": 1, "stroke": "white", "strokeWidth": 0.8}, "encoding": {"x": {"field": "x", "type": "quantitative"}, "y": {"field": "y", "type": "quantitative"}}},
      {"data": {"name": "labs"}, "transform": [{"filter": "datum.p == 'i'"}], "mark": {"type": "text", "font": "Liberation Serif", "fontSize": 23, "align": "left", "baseline": "middle", "color": "#111111"}, "encoding": {"x": {"field": "x", "type": "quantitative"}, "y": {"field": "y", "type": "quantitative"}, "text": {"field": "t"}}},
      {"data": {"name": "stats"}, "transform": [{"filter": "datum.p == 'i'"}], "mark": {"type": "text", "font": "DejaVu Sans", "fontStyle": "italic", "fontSize": 16.5, "lineHeight": 19.6, "lineBreak": "\n", "align": "left", "baseline": "top", "color": "#222222"}, "encoding": {"x": {"field": "x", "type": "quantitative"}, "y": {"field": "y", "type": "quantitative"}, "text": {"field": "t"}}}
    ]}
  ],
  "config": {
    "font": "DejaVu Sans",
    "view": {"stroke": "#333333", "strokeWidth": 1.5},
    "axis": {"grid": false, "domain": false, "ticks": true, "tickSize": 5, "tickColor": "#333333", "tickWidth": 1.2, "labelFont": "DejaVu Sans", "labelFontSize": 21, "labelColor": "#222222", "labelPadding": 4, "labelFlush": false, "labelOverlap": false, "titleFont": "DejaVu Sans", "titleFontSize": 21, "titleFontWeight": "normal", "titleColor": "#222222"},
    "axisX": {"titlePadding": 8},
    "axisY": {"titlePadding": 12}
  }
}
